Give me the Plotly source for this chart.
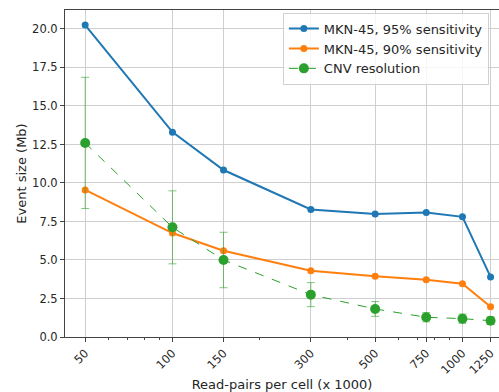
import numpy as np
import plotly.graph_objects as go

reads = [50, 100, 150, 300, 500, 750, 1000, 1250]
tick_labels = ["50", "100", "150", "300", "500", "750", "1000", "1250"]
sens95 = [20.25, 13.3, 10.84, 8.28, 7.99, 8.08, 7.8, 3.9]
sens90 = [9.55, 6.75, 5.6, 4.3, 3.95, 3.72, 3.46, 1.97]
cnv_res = [12.6, 7.12, 5.0, 2.75, 1.82, 1.28, 1.19, 1.06]
cnv_err = [4.26, 2.37, 1.8, 0.78, 0.48, 0.3, 0.3, 0.25]
y_ticks = [0, 2.5, 5, 7.5, 10, 12.5, 15, 17.5, 20]
minor_x = [60, 70, 80, 90, 200, 400, 600, 700, 800, 900]

FONT = "DejaVu Sans"
fig = go.Figure()
fig.add_trace(go.Scatter(x=reads, y=sens95, mode="lines+markers",
                         name="MKN-45, 95% sensitivity",
                         line=dict(color="#1f77b4", width=2),
                         marker=dict(size=7, color="#1f77b4")))
fig.add_trace(go.Scatter(x=reads, y=sens90, mode="lines+markers",
                         name="MKN-45, 90% sensitivity",
                         line=dict(color="#ff7f0e", width=2),
                         marker=dict(size=7, color="#ff7f0e")))
fig.add_trace(go.Scatter(x=reads, y=cnv_res, mode="lines+markers",
                         name="CNV resolution",
                         line=dict(color="#2ca02c", width=1, dash="dash"),
                         marker=dict(size=10, color="#2ca02c"),
                         error_y=dict(type="data", array=cnv_err, visible=True,
                                      color="rgba(44,160,44,0.6)", thickness=1, width=4)))

fig.update_layout(
    width=499, height=392,
    margin=dict(l=65, r=0, t=10, b=55),
    paper_bgcolor="white", plot_bgcolor="white",
    font=dict(family=FONT, size=11, color="#262626"),
    showlegend=True,
    legend=dict(x=0.502, y=0.992, xanchor="left", yanchor="top",
                bgcolor="rgba(255,255,255,0.8)", bordercolor="#d0d0d0", borderwidth=1,
                font=dict(family=FONT, size=13, color="#262626"),
                tracegroupgap=0),
    xaxis=dict(type="log", range=[np.log10(42.6), 3.126], automargin=False,
               tickmode="array", tickvals=reads, ticktext=tick_labels,
               tickangle=-45, tickfont=dict(size=11.5),
               showgrid=True, gridcolor="#cfcfcf", gridwidth=1,
               showline=True, linecolor="#444", linewidth=1, mirror=True,
               ticks="outside", ticklen=4, tickcolor="#444",
               minor=dict(tickvals=minor_x, ticks="outside", ticklen=2, tickcolor="#444", showgrid=False),
               title=dict(text="Read-pairs per cell (x 1000)", font=dict(size=13), standoff=4),
               zeroline=False),
    yaxis=dict(range=[0, 21.23], tickmode="array", tickvals=y_ticks, tickformat=".1f",
               tickfont=dict(size=11.5), automargin=False,
               showgrid=True, gridcolor="#cfcfcf", gridwidth=1,
               showline=True, linecolor="#444", linewidth=1, mirror=False,
               ticks="outside", ticklen=4, tickcolor="#444",
               title=dict(text="Event size (Mb)", font=dict(size=13), standoff=2),
               zeroline=False),
)
fig.write_html("out.html", config={"displayModeBar": False},
               post_script="document.body.style.margin='0';")
